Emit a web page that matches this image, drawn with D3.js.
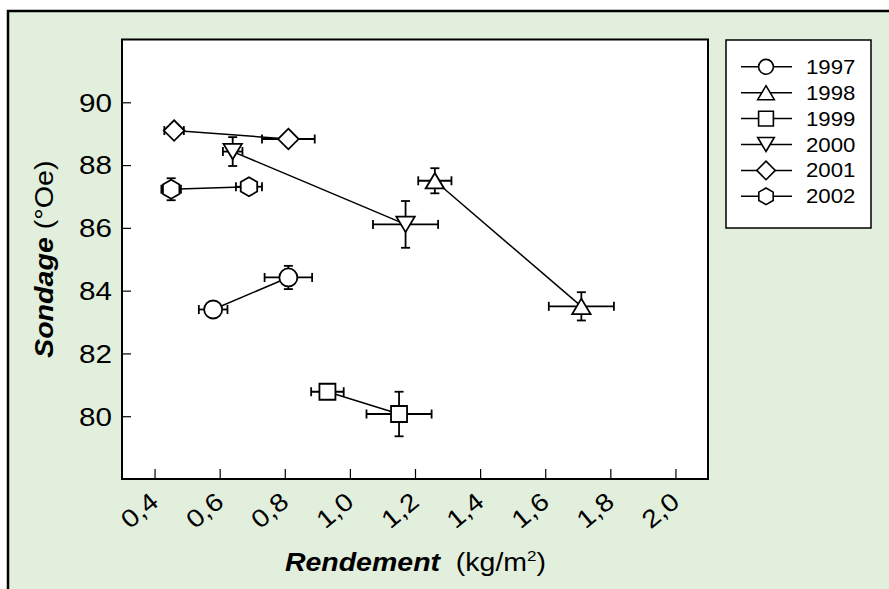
<!DOCTYPE html>
<html>
<head>
<meta charset="utf-8">
<script src="https://cdn.jsdelivr.net/npm/d3@7"></script>
<style>
  html, body { margin: 0; padding: 0; background: #ffffff; }
  svg { display: block; }
  text { font-family: "Liberation Sans", Arial, sans-serif; fill: #000; }
</style>
</head>
<body>
<svg id="chart" width="889" height="589"></svg>
<script>
// ---- data ----
const years = ["1997", "1998", "1999", "2000", "2001", "2002"];
const markerShapes = ["circle", "triangleUp", "square", "triangleDown", "diamond", "hexagon"];
const rendement = [
  [0.580, 0.811],
  [1.261, 1.711],
  [0.931, 1.151],
  [0.640, 1.171],
  [0.460, 0.811],
  [0.451, 0.690]
];
const sondage = [
  [83.40, 84.42],
  [87.50, 83.50],
  [80.78, 80.07],
  [88.43, 86.11],
  [89.10, 88.83],
  [87.23, 87.31]
];
const rendementErr = [
  [0.044, 0.073],
  [0.051, 0.100],
  [0.050, 0.100],
  [0.030, 0.100],
  [0.030, 0.081],
  [0.030, 0.040]
];
const sondageErr = [
  [0.08, 0.37],
  [0.40, 0.45],
  [0.08, 0.71],
  [0.46, 0.745],
  [0.08, 0.08],
  [0.35, 0.08]
];
const xTicks = [0.4, 0.6, 0.8, 1.0, 1.2, 1.4, 1.6, 1.8, 2.0];
const yTicks = [80, 82, 84, 86, 88, 90];
const xDomain = [0.3, 2.1];
const yDomain = [78, 92];

// ---- layout ----
const svg = d3.select("#chart");
const plot = { left: 122, right: 708, top: 39.5, bottom: 479 };
const SX = 1.14; // horizontal stretch of the lettering

svg.append("rect").attr("x", 8).attr("y", 11).attr("width", 950).attr("height", 650)
  .attr("fill", "#e2efdc").attr("stroke", "#000").attr("stroke-width", 2.5);

const x = d3.scaleLinear().domain(xDomain).range([plot.left, plot.right]);
const y = d3.scaleLinear().domain(yDomain).range([plot.bottom, plot.top]);

svg.append("rect").attr("x", plot.left).attr("y", plot.top)
  .attr("width", plot.right - plot.left).attr("height", plot.bottom - plot.top)
  .attr("fill", "#fff").attr("stroke", "#000").attr("stroke-width", 2);

const fmt = v => d3.format(".1f")(v).replace(".", ",");

// y axis (ticks inward)
const yAxis = svg.append("g").attr("transform", `translate(${plot.left},0)`)
  .call(d3.axisRight(y).tickValues(yTicks).tickSize(9).tickFormat(""));
yAxis.select(".domain").remove();
yAxis.selectAll(".tick line").attr("stroke", "#000").attr("stroke-width", 1.2);
yTicks.forEach(t => {
  svg.append("text").attr("transform", `translate(112,${y(t)}) scale(${SX},1)`)
    .attr("dy", "0.36em").attr("text-anchor", "end").attr("font-size", 26).text(t);
});

// x axis (ticks inward)
const xAxis = svg.append("g").attr("transform", `translate(0,${plot.bottom})`)
  .call(d3.axisTop(x).tickValues(xTicks).tickSize(10).tickFormat(""));
xAxis.select(".domain").remove();
xAxis.selectAll(".tick line").attr("stroke", "#000").attr("stroke-width", 1.2);
xTicks.forEach(t => {
  svg.append("text")
    .attr("transform", `translate(${x(t)},${plot.bottom + 18.5}) rotate(-40) scale(${SX},1)`)
    .attr("text-anchor", "end").attr("dy", "0.35em").attr("font-size", 25).text(fmt(t));
});

// axis titles
const xt = svg.append("text")
  .attr("transform", `translate(${(plot.left + plot.right) / 2 + 0.5},571) scale(${SX},1)`)
  .attr("text-anchor", "middle").attr("font-size", 25);
xt.append("tspan").attr("font-weight", "bold").attr("font-style", "italic").text("Rendement");
xt.append("tspan").text("\u00a0\u00a0(kg/m");
xt.append("tspan").attr("font-size", 15).attr("dy", -10).text("2");
xt.append("tspan").attr("dy", 10).text(")");

const yt = svg.append("text")
  .attr("transform", `translate(53,${(plot.top + plot.bottom) / 2}) rotate(-90) scale(1.1,1)`)
  .attr("text-anchor", "middle").attr("font-size", 26);
yt.append("tspan").attr("font-weight", "bold").attr("font-style", "italic").text("Sondage");
yt.append("tspan").text(" (°Oe)");

// marker paths
function markerPath(shape, s) {
  switch (shape) {
    case "circle": return d3.arc()({innerRadius: 0, outerRadius: s.r, startAngle: 0, endAngle: 2 * Math.PI});
    case "square": return `M${-s.sq},${-s.sq}H${s.sq}V${s.sq}H${-s.sq}Z`;
    case "triangleUp": return `M0,${-s.th}L${s.tw},${s.th}L${-s.tw},${s.th}Z`;
    case "triangleDown": return `M0,${s.th}L${s.tw},${-s.th}L${-s.tw},${-s.th}Z`;
    case "diamond": return `M0,${-s.dm}L${s.dm},0L0,${s.dm}L${-s.dm},0Z`;
    case "hexagon": {
      const pts = d3.range(6).map(i => {
        const a = Math.PI / 2 + i * Math.PI / 3;
        return [s.hx * Math.cos(a), -s.hy * Math.sin(a)];
      });
      return "M" + pts.map(p => p.join(",")).join("L") + "Z";
    }
  }
}
const plotSize = { r: 9, sq: 8, tw: 9.2, th: 7.7, dm: 10.3, hx: 9.5, hy: 9.5 };
const legSize = { r: 7.4, sq: 7.4, tw: 8.3, th: 7, dm: 9.3, hx: 8.3, hy: 8.3 };

const cap = 4.5;
years.forEach((yr, i) => {
  const g = svg.append("g");
  const pts = rendement[i].map((rv, j) => ({
    x: rv, y: sondage[i][j], ex: rendementErr[i][j], ey: sondageErr[i][j]
  }));
  g.append("path").attr("d", d3.line().x(d => x(d.x)).y(d => y(d.y))(pts))
    .attr("fill", "none").attr("stroke", "#000").attr("stroke-width", 1.5);
  pts.forEach(d => {
    const cx = x(d.x), cy = y(d.y);
    const x0 = x(d.x - d.ex), x1 = x(d.x + d.ex), y0 = y(d.y - d.ey), y1 = y(d.y + d.ey);
    const eb = g.append("g").attr("stroke", "#000").attr("stroke-width", 1.8).attr("fill", "none");
    eb.append("line").attr("x1", x0).attr("x2", x1).attr("y1", cy).attr("y2", cy);
    eb.append("line").attr("x1", x0).attr("x2", x0).attr("y1", cy - cap).attr("y2", cy + cap);
    eb.append("line").attr("x1", x1).attr("x2", x1).attr("y1", cy - cap).attr("y2", cy + cap);
    eb.append("line").attr("x1", cx).attr("x2", cx).attr("y1", y0).attr("y2", y1);
    eb.append("line").attr("y1", y0).attr("y2", y0).attr("x1", cx - cap).attr("x2", cx + cap);
    eb.append("line").attr("y1", y1).attr("y2", y1).attr("x1", cx - cap).attr("x2", cx + cap);
    g.append("path").attr("d", markerPath(markerShapes[i], plotSize))
      .attr("transform", `translate(${cx},${cy})`)
      .attr("fill", "#fff").attr("stroke", "#000").attr("stroke-width", 1.8);
  });
});

// legend
const leg = { left: 726, top: 40, right: 871, bottom: 228 };
svg.append("rect").attr("x", leg.left).attr("y", leg.top)
  .attr("width", leg.right - leg.left).attr("height", leg.bottom - leg.top)
  .attr("fill", "#fff").attr("stroke", "#000").attr("stroke-width", 1.5);
years.forEach((yr, i) => {
  const cy = 66.8 + i * 25.9;
  svg.append("line").attr("x1", 741).attr("x2", 792).attr("y1", cy).attr("y2", cy)
    .attr("stroke", "#000").attr("stroke-width", 1.5);
  svg.append("path").attr("d", markerPath(markerShapes[i], legSize))
    .attr("transform", `translate(766,${cy})`)
    .attr("fill", "#fff").attr("stroke", "#000").attr("stroke-width", 1.6);
  svg.append("text").attr("transform", `translate(806,${cy}) scale(${SX},1)`)
    .attr("dy", "0.36em").attr("font-size", 19.5).text(yr);
});
</script>
</body>
</html>
